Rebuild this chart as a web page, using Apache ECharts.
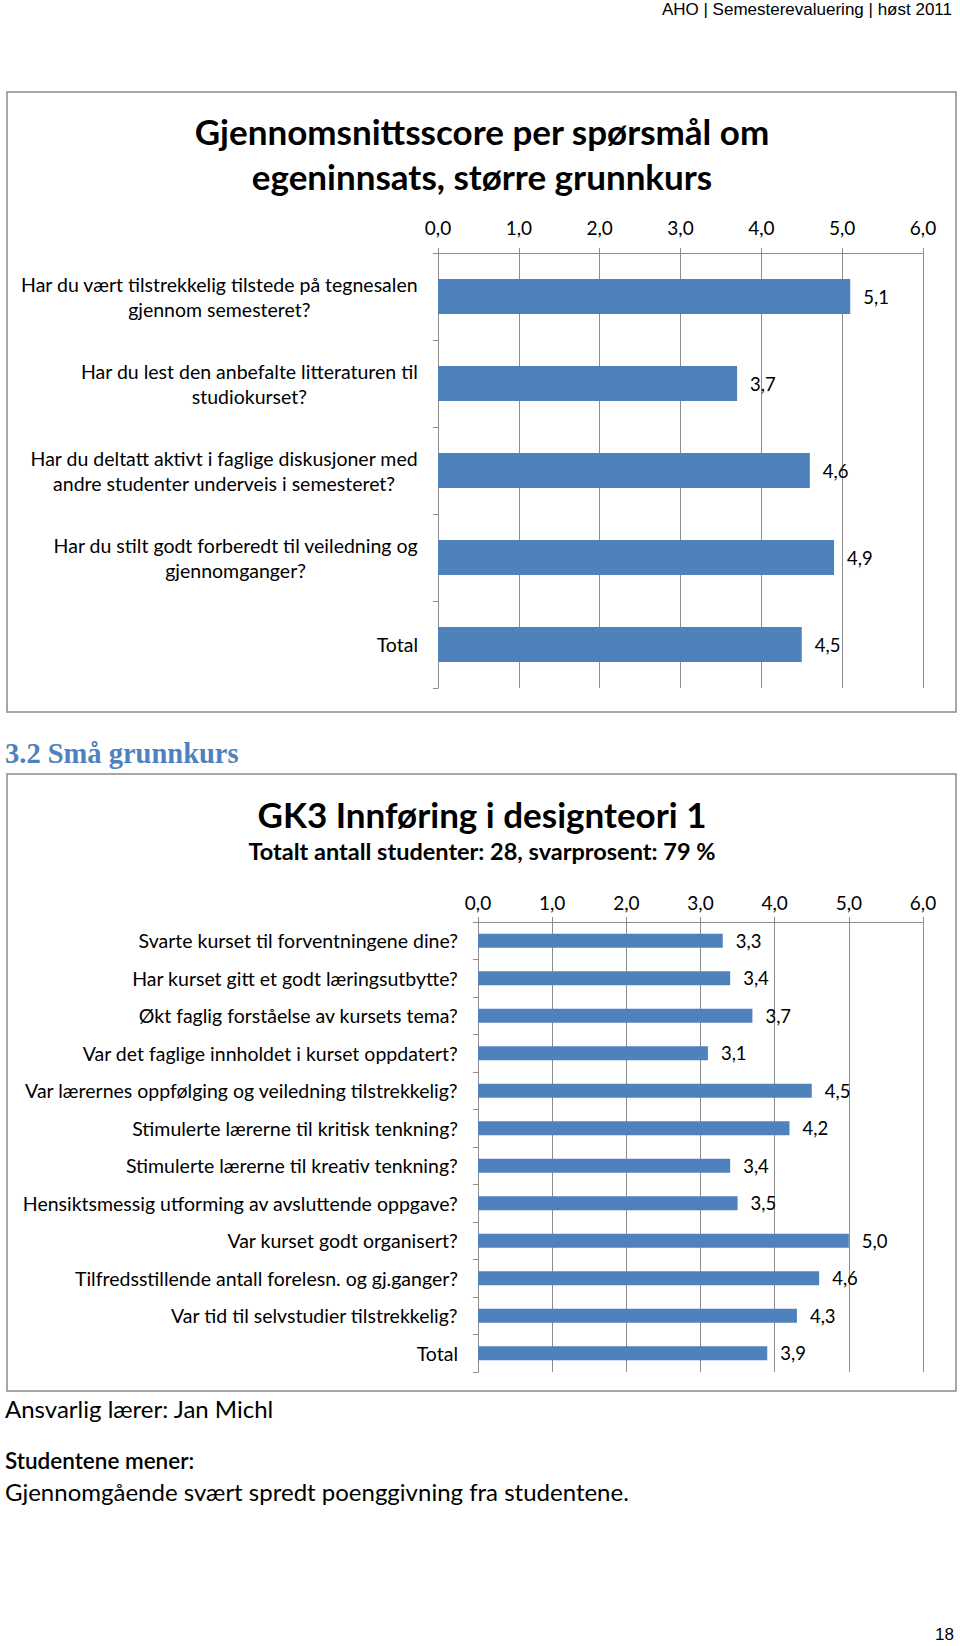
<!DOCTYPE html>
<html><head><meta charset="utf-8">
<script src="https://cdn.jsdelivr.net/npm/echarts@6/dist/echarts.min.js"></script>
<style>html,body{margin:0;padding:0;background:#fff}#c{width:960px;height:1646px}</style>
</head><body><div id="c"></div>
<script>
// ---- data ----
const valueTicks = [0, 1, 2, 3, 4, 5, 6];
const cats1 = [
  "Har du vært tilstrekkelig tilstede på tegnesalen\ngjennom semesteret?",
  "Har du lest den anbefalte litteraturen til\nstudiokurset?",
  "Har du deltatt aktivt i faglige diskusjoner med\nandre studenter underveis i semesteret?",
  "Har du stilt godt forberedt til veiledning og\ngjennomganger?",
  "Total"
];
const vals1 = [5.1, 3.7, 4.6, 4.9, 4.5];
const cats2 = [
  "Svarte kurset til forventningene dine?",
  "Har kurset gitt et godt læringsutbytte?",
  "Økt faglig forståelse av kursets tema?",
  "Var det faglige innholdet i kurset oppdatert?",
  "Var lærernes oppfølging og veiledning tilstrekkelig?",
  "Stimulerte lærerne til kritisk tenkning?",
  "Stimulerte lærerne til kreativ tenkning?",
  "Hensiktsmessig utforming av avsluttende oppgave?",
  "Var kurset godt organisert?",
  "Tilfredsstillende antall forelesn. og gj.ganger?",
  "Var tid til selvstudier tilstrekkelig?",
  "Total"
];
const vals2 = [3.3, 3.4, 3.7, 3.1, 4.5, 4.2, 3.4, 3.5, 5.0, 4.6, 4.3, 3.9];
const title1 = "Gjennomsnittsscore per spørsmål om\negeninnsats, større grunnkurs";
const title2 = "GK3 Innføring i designteori 1";
const subtitle2 = "Totalt antall studenter: 28, svarprosent: 79 %";

// ---- style ----
const F = "Lato, 'Noto Sans', sans-serif";
const BLUE = "#4F81BD";
const GRID = "#8c8c8c";
const fmt = v => Number(v).toFixed(1).replace('.', ',');

const chart = echarts.init(document.getElementById('c'), null, {renderer: 'svg'});

function xAxisCfg(gi, margin) {
  return {
    gridIndex: gi, type: 'value', position: 'top',
    min: valueTicks[0], max: valueTicks[valueTicks.length - 1], interval: 1,
    axisLine: {show: true, lineStyle: {color: GRID, width: 1}},
    axisTick: {show: true, length: 5, lineStyle: {color: GRID}},
    splitLine: {show: true, lineStyle: {color: GRID, width: 1}},
    axisLabel: {formatter: fmt, fontFamily: F, fontSize: 19, color: '#000', margin: margin}
  };
}
function yAxisCfg(gi, cats, lh) {
  return {
    gridIndex: gi, type: 'category', data: cats, inverse: true,
    axisLine: {show: true, lineStyle: {color: GRID, width: 1}},
    axisTick: {show: true, length: 5, lineStyle: {color: GRID}},
    splitLine: {show: false},
    axisLabel: {
      margin: 20, color: '#000',
      formatter: v => v.split('\n').map(l => '{c|' + l + '}').join('\n'),
      rich: {c: {align: 'center', fontFamily: F, fontSize: 19.5, color: '#000', lineHeight: lh}}
    }
  };
}
function barSeries(idx, vals, bw) {
  return {
    type: 'bar', xAxisIndex: idx, yAxisIndex: idx, data: vals, barWidth: bw,
    itemStyle: {color: BLUE},
    label: {show: true, position: 'right', distance: 13, formatter: p => fmt(p.value),
      fontFamily: F, fontSize: 18.5, color: '#000'},
    animation: false
  };
}

chart.setOption({
  animation: false,
  grid: [
    {left: 438, top: 253, width: 485, height: 435},
    {left: 478, top: 922, width: 445, height: 450}
  ],
  xAxis: [xAxisCfg(0, 16), xAxisCfg(1, 10)],
  yAxis: [yAxisCfg(0, cats1, 25), yAxisCfg(1, cats2, 22)],
  series: [barSeries(0, vals1, '40%'), barSeries(1, vals2, '37%')],
  graphic: [
    {type: 'text', right: 8, top: 1, style: {text: 'AHO | Semesterevaluering | høst 2011',
      font: "17px 'Liberation Sans', Arial, sans-serif", fill: '#000'}},
    {type: 'rect', shape: {x: 7, y: 92, width: 949, height: 620}, style: {fill: 'none', stroke: '#8a8a8a', lineWidth: 1.5}, z: -1},
    {type: 'text', x: 482, y: 153, style: {text: title1, align: 'center', verticalAlign: 'middle',
      font: "bold 35px " + F, lineHeight: 45, fill: '#000'}},
    {type: 'text', x: 5, y: 753, style: {text: '3.2 Små grunnkurs', align: 'left', verticalAlign: 'middle',
      font: "bold 28.5px 'Liberation Serif', 'DejaVu Serif', serif", fill: BLUE}},
    {type: 'rect', shape: {x: 7, y: 774, width: 949, height: 617}, style: {fill: 'none', stroke: '#8a8a8a', lineWidth: 1.5}, z: -1},
    {type: 'text', x: 482, y: 814, style: {text: title2, align: 'center', verticalAlign: 'middle',
      font: "bold 35px " + F, fill: '#000'}},
    {type: 'text', x: 482, y: 851, style: {text: subtitle2, align: 'center', verticalAlign: 'middle',
      font: "bold 23.5px " + F, fill: '#000'}},
    {type: 'text', x: 5, y: 1408, style: {text: 'Ansvarlig lærer: Jan Michl', align: 'left', verticalAlign: 'middle',
      font: "400 24px " + F, fill: '#000'}},
    {type: 'text', x: 5, y: 1460, style: {text: 'Studentene mener:', align: 'left', verticalAlign: 'middle',
      font: "600 22.5px " + F, fill: '#000'}},
    {type: 'text', x: 5, y: 1491, style: {text: 'Gjennomgående svært spredt poenggivning fra studentene.', align: 'left', verticalAlign: 'middle',
      font: "400 24px " + F, fill: '#000'}},
    {type: 'text', right: 6, top: 1626, style: {text: '18', font: "17px 'Liberation Sans', Arial, sans-serif", fill: '#000'}}
  ]
});
</script></body></html>
